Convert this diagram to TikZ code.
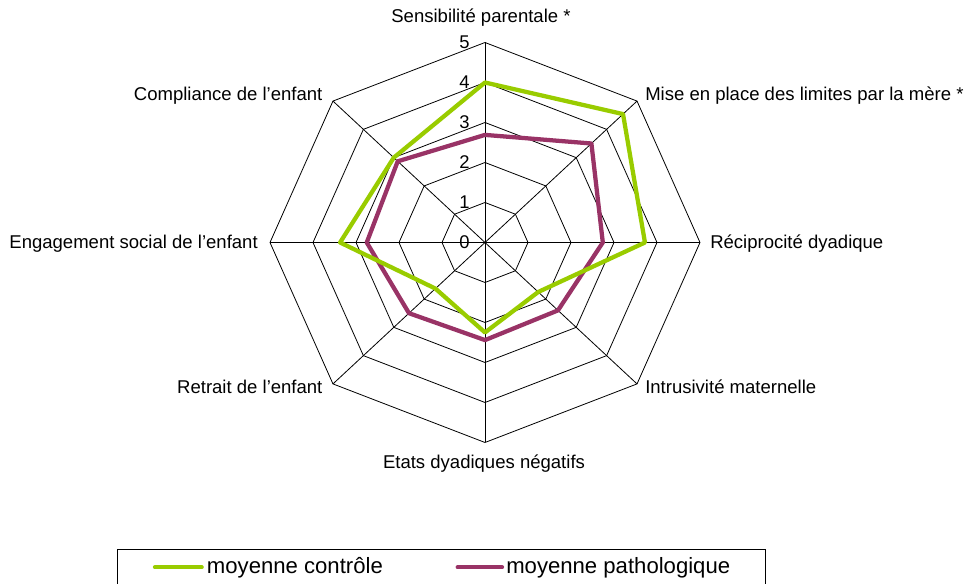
\documentclass[tikz,border=0pt]{standalone}
\usepackage{fontspec}
\setmainfont{Liberation Sans}

\definecolor{cgreen}{HTML}{99CC00}
\definecolor{cpurple}{HTML}{993366}

\tikzset{
  webline/.style={draw=black, line width=0.6pt},
  serie/.style={line width=3.2pt, line join=round},
  axlabel/.style={inner sep=0pt, font=\fontsize{13.9}{16}\selectfont, text height=10pt, text depth=1pt},
  tick/.style={inner sep=0pt, anchor=east, font=\fontsize{13.8}{16}\selectfont},
  legtext/.style={inner sep=0pt, anchor=west, font=\fontsize{16.6}{19}\selectfont, text height=11pt, text depth=1pt}
}

\begin{document}
\begin{tikzpicture}[x=0.75pt,y=0.75pt]
  \useasboundingbox (-485,-341.5) rectangle (480,242.5);

  \begin{scope}[x=32.25pt,y=30pt]
    \coordinate (o) at (0,0);
    % rings
    \draw[webline] (90:1) -- (45:1) -- (0:1) -- (-45:1) -- (-90:1) -- (-135:1) -- (180:1) -- (135:1) -- cycle;
    \draw[webline] (90:2) -- (45:2) -- (0:2) -- (-45:2) -- (-90:2) -- (-135:2) -- (180:2) -- (135:2) -- cycle;
    \draw[webline] (90:3) -- (45:3) -- (0:3) -- (-45:3) -- (-90:3) -- (-135:3) -- (180:3) -- (135:3) -- cycle;
    \draw[webline] (90:4) -- (45:4) -- (0:4) -- (-45:4) -- (-90:4) -- (-135:4) -- (180:4) -- (135:4) -- cycle;
    \draw[webline] (90:5) -- (45:5) -- (0:5) -- (-45:5) -- (-90:5) -- (-135:5) -- (180:5) -- (135:5) -- cycle;
    % spokes
    \draw[webline] (o) -- (90:5);
    \draw[webline] (o) -- (45:5);
    \draw[webline] (o) -- (0:5);
    \draw[webline] (o) -- (-45:5);
    \draw[webline] (o) -- (-90:5);
    \draw[webline] (o) -- (-135:5);
    \draw[webline] (o) -- (180:5);
    \draw[webline] (o) -- (135:5);
    % series
    \draw[serie, cpurple] (90:2.69) -- (45:3.5) -- (0:2.74) -- (-45:2.4) -- (-90:2.44) -- (-135:2.5) -- (180:2.75) -- (135:2.87) -- cycle;
    \draw[serie, cgreen] (90:4) -- (45:4.54) -- (0:3.72) -- (-45:1.75) -- (-90:2.25) -- (-135:1.63) -- (180:3.37) -- (135:3) -- cycle;
  \end{scope}

  % scale
  \node[tick] (t0) at (-15,0) {0};
  \node[tick] (t1) at (-15,40) {1};
  \node[tick] (t2) at (-15,80) {2};
  \node[tick] (t3) at (-15,120) {3};
  \node[tick] (t4) at (-15,160) {4};
  \node[tick] (t5) at (-15,200) {5};

  % axis names
  \node[axlabel] (sens) at (-4,225.8) {Sensibilité parentale *};
  \node[axlabel, anchor=west] (lim) at (160,147.5) {Mise en place des limites par la mère *};
  \node[axlabel, anchor=west] (rec) at (225,0) {Réciprocité dyadique};
  \node[axlabel, anchor=west] (intr) at (160,-145.5) {Intrusivité maternelle};
  \node[axlabel] (neg) at (-1,-220.5) {Etats dyadiques négatifs};
  \node[axlabel, anchor=east] (retr) at (-162.3,-145.5) {Retrait de l’enfant};
  \node[axlabel, anchor=east] (eng) at (-227,0) {Engagement social de l’enfant};
  \node[axlabel, anchor=east] (comp) at (-162.3,147.5) {Compliance de l’enfant};

  % legend
  \draw[line width=0.75pt] (-367.3,-306.8) rectangle (281,-370);
  \draw[serie, cgreen, line cap=round] (-330,-324.8) -- (-283.3,-324.8);
  \node[legtext] (lctrl) at (-278.3,-324.8) {moyenne contrôle};
  \draw[serie, cpurple, line cap=round] (-27.3,-324.8) -- (17,-324.8);
  \node[legtext] (lpath) at (21,-324.8) {moyenne pathologique};
\end{tikzpicture}
\end{document}
